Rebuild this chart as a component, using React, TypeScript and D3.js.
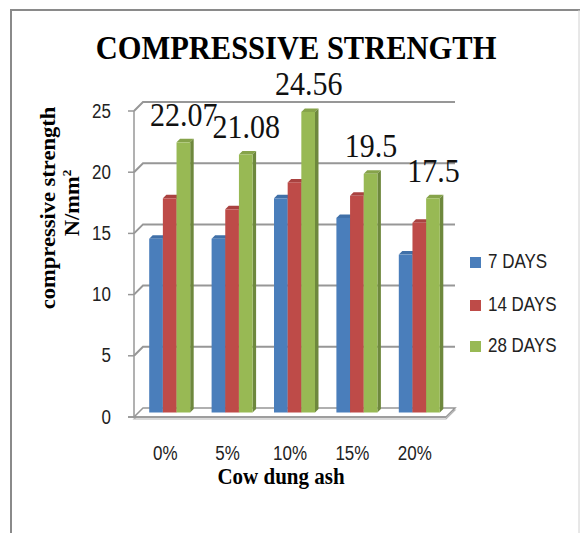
import React from 'react';
import * as d3 from 'd3';

const categories = ['0%', '5%', '10%', '15%', '20%'];
const seriesNames = ['7 DAYS', '14 DAYS', '28 DAYS'];
const days7 = [14.2, 14.2, 17.5, 15.9, 12.9];
const days14 = [17.5, 16.6, 18.8, 17.7, 15.5];
const days28 = [22.07, 21.08, 24.56, 19.5, 17.5];
const valueLabels = ['22.07', '21.08', '24.56', '19.5', '17.5'];
const yTicks = [0, 5, 10, 15, 20, 25];

const seriesValues = [days7, days14, days28];
const frontColors = ['#4A7EBB', '#BE4B48', '#98B954'];
const sideColors = ['#375E8E', '#8C3836', '#6E883D'];
const topColors = ['#4070A8', '#A94240', '#86A34A'];

const W = 583;
const H = 533;
const SERIF = '"Liberation Serif", "Times New Roman", serif';
const SANS = '"Liberation Sans", Arial, sans-serif';

export default function App() {
  const x0 = 134, x1 = 446;
  const depth = 9; // wall depth offset
  const barShift = 4.5; // bars sit mid-depth
  const bd = 3.5; // bar depth

  const x = d3.scaleBand<string>().domain(categories).range([x0, x1]).paddingInner(0.343).paddingOuter(0.1715);
  const xs = d3.scaleBand<string>().domain(seriesNames).range([0, x.bandwidth()]);
  const yFront = d3.scaleLinear().domain([0, 25]).range([417, 111]);
  const yBack = d3.scaleLinear().domain([0, 25]).range([417 - depth, 111 - depth]);
  const yBar = d3.scaleLinear().domain([0, 25]).range([417 - barShift, 111 - barShift]);

  const gridColor = '#979797';

  return (
    <svg width={W} height={H} style={{ position: 'absolute', left: 0, top: 0, background: '#fff' }}>
      {/* outer border */}
      <line x1={11} y1={10} x2={11} y2={H} stroke="#8a8a8a" strokeWidth={2} />
      <line x1={10} y1={10} x2={580} y2={10} stroke="#8a8a8a" strokeWidth={2} />
      <line x1={579} y1={10} x2={579} y2={H} stroke="#d0d0d0" strokeWidth={1} />

      {/* title */}
      <text transform={`translate(296,59) scale(1,1.08)`} textAnchor="middle" fontFamily={SERIF} fontWeight="bold" fontSize={30.5} fill="#000">
        COMPRESSIVE STRENGTH
      </text>

      {/* floor (with thickness) */}
      <polygon
        points={`${x0},${yFront(0) + 2} ${x1},${yFront(0) + 2} ${x1 + depth},${yBack(0) + 2} ${x0 + depth},${yBack(0) + 2}`}
        fill="none" stroke="#b5b5b5" strokeWidth={1.2} />
      <polygon
        points={`${x0},${yFront(0)} ${x1},${yFront(0)} ${x1 + depth},${yBack(0)} ${x0 + depth},${yBack(0)}`}
        fill="#fff" stroke={gridColor} strokeWidth={1.5} />

      {/* gridlines on back + left walls */}
      {yTicks.filter((t) => t > 0).map((t) => (
        <polyline key={'g' + t}
          points={`${x0},${yFront(t)} ${x0 + depth},${yBack(t)} ${x1 + depth},${yBack(t)}`}
          fill="none" stroke={gridColor} strokeWidth={2} />
      ))}
      {/* y axis line */}
      <line x1={x0} y1={yFront(0)} x2={x0} y2={yFront(25)} stroke={gridColor} strokeWidth={1.5} />
      {/* ticks */}
      {yTicks.map((t) => (
        <line key={'t' + t} x1={x0 - 6} x2={x0} y1={yFront(t)} y2={yFront(t)} stroke={gridColor} strokeWidth={1.5} />
      ))}
      <line x1={x0 - 6} x2={x1} y1={yFront(0)} y2={yFront(0)} stroke={gridColor} strokeWidth={1.5} />

      {/* y tick labels */}
      {yTicks.map((t) => (
        <text key={'l' + t} transform={`translate(111,${yFront(t) + 6.5}) scale(1,1.15)`} textAnchor="end" fontFamily={SANS} fontSize={17} fill="#222">
          {t}
        </text>
      ))}

      {/* bars */}
      {categories.map((c, ci) => (
        <g key={c}>
          {seriesNames.map((s, si) => {
            const v = seriesValues[si][ci];
            const bx = (x(c) as number) + (xs(s) as number) + barShift;
            const w = xs.bandwidth();
            const top = yBar(v);
            const bot = yBar(0);
            return (
              <g key={s}>
                <polygon points={`${bx},${top} ${bx + bd},${top - bd} ${bx + w + bd},${top - bd} ${bx + w},${top}`} fill={topColors[si]} />
                <polygon points={`${bx + w},${top} ${bx + w + bd},${top - bd} ${bx + w + bd},${bot - bd} ${bx + w},${bot}`} fill={sideColors[si]} />
                <rect x={bx} y={top} width={w} height={bot - top} fill={frontColors[si]} />
              </g>
            );
          })}
        </g>
      ))}

      {/* value labels on 28 days */}
      {categories.map((c, ci) => {
        const gx = (x(c) as number) + (xs(seriesNames[2]) as number) + barShift + xs.bandwidth() / 2 + 0.5;
        const gy = yBar(days28[ci]) - 16.5;
        return (
          <text key={'v' + c} transform={`translate(${gx},${gy}) scale(1,1.12)`} textAnchor="middle" fontFamily={SERIF} fontSize={30} fill="#111">
            {valueLabels[ci]}
          </text>
        );
      })}

      {/* category labels */}
      {categories.map((c) => (
        <text key={'c' + c} transform={`translate(${(x(c) as number) + x.bandwidth() / 2},460) scale(1,1.15)`} textAnchor="middle" fontFamily={SANS} fontSize={17} fill="#222">
          {c}
        </text>
      ))}

      {/* axis titles */}
      <text transform={`translate(281,484) scale(1,1.1)`} textAnchor="middle" fontFamily={SERIF} fontWeight="bold" fontSize={21} fill="#000">
        Cow dung ash
      </text>
      <text transform={`translate(55,208) scale(1,1.1) rotate(-90)`} textAnchor="middle" fontFamily={SERIF} fontWeight="bold" fontSize={20.5} fill="#000">
        compressive strength
      </text>
      <text transform={`translate(79,203) scale(1,1.1) rotate(-90)`} textAnchor="middle" fontFamily={SERIF} fontWeight="bold" fontSize={20.5} fill="#000">
        N/mm<tspan fontSize={12} dy={-8}>2</tspan>
      </text>

      {/* legend */}
      {seriesNames.map((s, i) => {
        const ly = [268, 311, 352][i];
        return (
          <g key={'lg' + s}>
            <rect x={470} y={ly - 11} width={11} height={11} fill={frontColors[i]} />
            <text transform={`translate(488,${ly}) scale(1,1.15)`} fontFamily={SANS} fontSize={17} fill="#222">{s}</text>
          </g>
        );
      })}
    </svg>
  );
}
